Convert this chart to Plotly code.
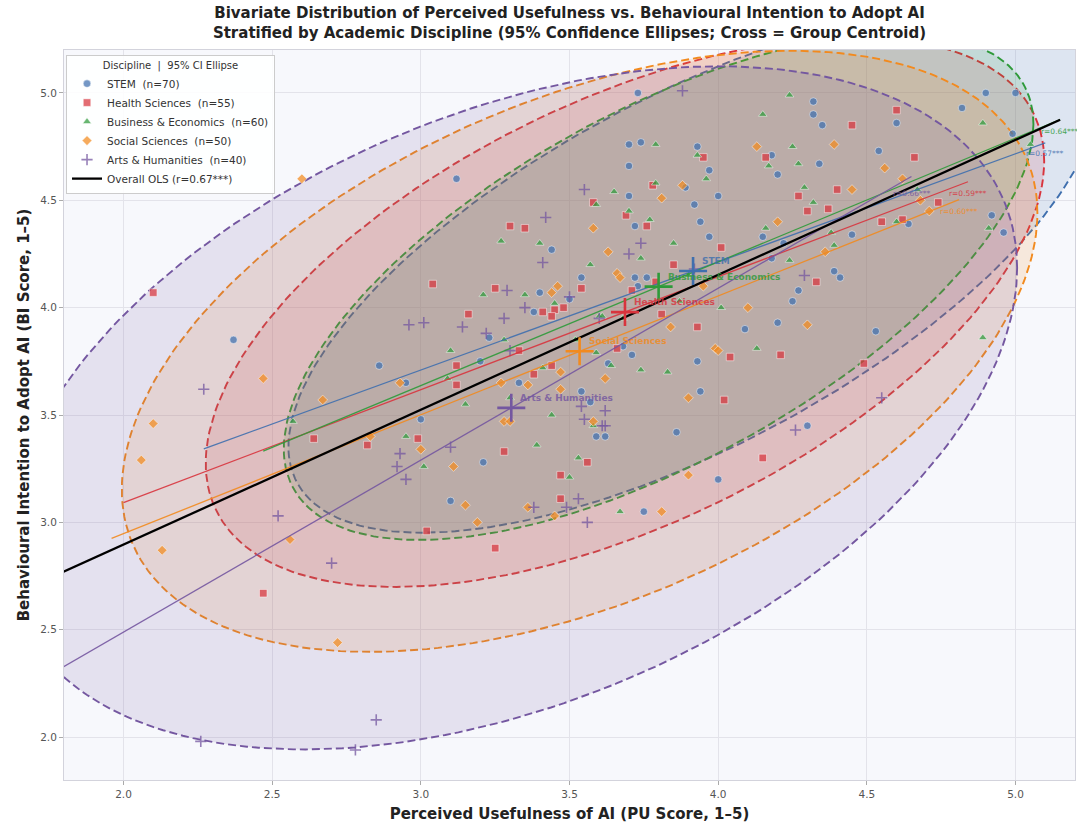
import numpy as np
import plotly.graph_objects as go

# ---------------- data ----------------
groups = ["STEM", "Health Sciences", "Business & Economics", "Social Sciences", "Arts & Humanities"]
group_n = [70, 55, 60, 50, 40]
group_r_labels = ["r=0.57***", "r=0.59***", "r=0.64***", "r=0.60***", "r=0.66***"]
overall_label = "Overall OLS (r=0.67***)"

stem_pu = [2.37, 2.86, 3.73, 3.12, 3.70, 3.74, 3.93, 3.70, 3.97, 3.89,
           3.70, 4.00, 3.92, 3.72, 3.94, 3.97, 3.44, 3.54, 3.72, 3.76,
           3.40, 3.73, 3.50, 3.38, 3.23, 3.93, 3.68, 3.20, 3.63, 3.71,
           2.95, 3.33, 3.94, 3.54, 3.57, 3.00, 3.59, 3.62, 3.86, 3.21,
           4.32, 4.32, 4.35, 4.60, 4.90, 5.00, 4.82, 4.99, 4.18, 4.20,
           4.34, 4.54, 4.64, 4.15, 4.45, 4.22, 4.18, 4.39, 4.41, 4.27,
           4.25, 4.92, 4.96, 4.09, 4.20, 4.53, 3.10, 3.75, 4.00, 4.30]
stem_bi = [3.85, 3.73, 5.00, 4.60, 4.76, 4.77, 4.75, 4.66, 4.64, 4.56,
           4.52, 4.52, 4.48, 4.38, 4.40, 4.33, 4.27, 4.14, 4.14, 4.14,
           4.07, 4.10, 4.04, 3.98, 3.86, 3.75, 3.82, 3.75, 3.74, 3.78,
           3.65, 3.65, 3.61, 3.61, 3.56, 3.48, 3.40, 3.40, 3.42, 3.28,
           4.96, 4.90, 4.85, 4.86, 5.00, 5.00, 4.93, 4.81, 4.71, 4.62,
           4.67, 4.73, 4.39, 4.33, 4.34, 4.30, 4.23, 4.17, 4.14, 4.08,
           4.03, 4.43, 4.35, 3.90, 3.93, 3.89, 3.10, 3.05, 3.20, 3.45]

health_pu = [2.10, 2.47, 2.64, 2.82, 3.78, 3.58, 3.69, 3.76, 3.30, 3.35,
             4.01, 3.85, 3.04, 3.25, 3.54, 3.71, 3.79, 3.41, 3.45, 3.48,
             3.44, 3.16, 3.81, 3.93, 4.04, 3.33, 3.66, 3.12, 3.12, 3.44,
             3.38, 4.02, 2.99, 3.28, 3.56, 3.47, 3.47, 3.02, 3.25, 4.60,
             4.16, 4.66, 4.27, 4.30, 4.37, 4.74, 4.62, 4.55, 4.33, 4.21,
             4.49, 4.15, 4.40, 3.95, 4.45]
health_bi = [4.07, 2.67, 3.39, 3.36, 4.57, 4.49, 4.43, 4.38, 4.38, 4.37,
             4.28, 4.20, 4.11, 4.09, 4.09, 4.08, 4.12, 3.98, 3.99, 4.00,
             3.96, 3.97, 3.97, 3.91, 3.77, 3.80, 3.81, 3.73, 3.64, 3.73,
             3.69, 3.57, 3.39, 3.33, 3.28, 3.22, 3.11, 2.96, 2.88, 4.92,
             4.70, 4.70, 4.52, 4.45, 4.46, 4.49, 4.41, 4.40, 4.12, 3.78,
             3.74, 3.30, 4.55, 4.70, 4.85]

business_pu = [2.57, 3.79, 3.93, 3.96, 3.65, 3.79, 3.59, 3.77, 3.27, 3.57,
               3.74, 3.21, 3.35, 3.45, 3.60, 3.61, 3.87, 4.01, 3.64, 3.74,
               3.83, 3.09, 3.44, 3.01, 3.39, 3.53, 3.50, 3.67, 4.24, 4.15,
               4.89, 5.05, 4.25, 4.17, 4.27, 4.29, 4.32, 4.67, 4.16, 4.38,
               4.39, 4.24, 4.91, 4.13, 4.89, 3.41, 3.59, 3.30, 3.52, 3.68,
               3.85, 3.10, 3.40, 3.15, 3.90, 3.58, 3.28, 3.70, 2.95, 4.60]
business_bi = [3.47, 4.76, 4.71, 4.60, 4.54, 4.58, 4.48, 4.41, 4.31, 4.20,
               4.23, 4.06, 4.06, 4.02, 3.96, 3.96, 4.03, 4.00, 3.73, 3.71,
               3.70, 3.67, 3.50, 3.26, 3.36, 3.30, 3.21, 3.05, 4.99, 4.90,
               4.86, 4.76, 4.75, 4.66, 4.67, 4.56, 4.49, 4.55, 4.37, 4.35,
               4.29, 4.22, 4.37, 3.81, 3.86, 3.72, 3.79, 3.58, 3.85, 3.95,
               4.30, 3.80, 4.30, 3.55, 4.15, 3.45, 3.85, 4.45, 3.40, 4.40]

social_pu = [2.47, 2.60, 2.67, 2.93, 2.10, 2.06, 2.13, 2.56, 2.72, 2.83,
             3.81, 3.88, 3.58, 3.63, 3.66, 3.67, 3.44, 3.46, 3.84, 3.99,
             4.00, 3.47, 3.62, 3.27, 3.36, 3.47, 3.90, 3.28, 3.30, 3.58,
             3.00, 3.11, 3.15, 3.36, 3.45, 3.19, 3.81, 3.90, 4.13, 4.39,
             4.56, 4.71, 4.36, 4.30, 4.45, 4.20, 4.62, 3.95, 4.10, 4.68]
social_bi = [3.67, 4.60, 3.57, 3.65, 3.46, 3.29, 2.87, 2.92, 2.44, 3.40,
             4.51, 4.57, 4.37, 4.26, 4.16, 4.14, 4.07, 4.10, 3.91, 3.81,
             3.80, 3.70, 3.67, 3.65, 3.64, 3.62, 3.58, 3.47, 3.47, 3.47,
             3.34, 3.26, 3.08, 3.07, 3.03, 3.00, 3.05, 3.22, 4.75, 4.76,
             4.65, 4.45, 4.26, 3.92, 4.55, 4.40, 4.60, 4.10, 4.00, 4.50]

arts_pu = [2.27, 2.52, 2.70, 2.85, 2.26, 2.78, 2.93, 2.92, 3.88, 3.55,
           3.42, 3.41, 3.92, 3.29, 2.96, 3.01, 3.14, 3.28, 3.22, 3.54,
           3.62, 3.55, 3.61, 3.62, 3.53, 3.38, 3.49, 3.56, 4.55, 4.26,
           4.29, 1.62, 2.95, 3.30, 3.60, 3.70, 3.35, 3.10, 3.50, 3.74]
arts_bi = [3.62, 3.03, 2.81, 2.08, 1.98, 1.94, 3.32, 3.26, 5.01, 4.55,
           4.42, 4.21, 4.18, 4.08, 3.92, 3.93, 3.91, 3.95, 3.88, 3.54,
           3.52, 3.48, 3.45, 3.45, 3.11, 3.07, 3.07, 3.00, 3.58, 3.43,
           4.15, 1.50, 3.20, 3.80, 3.95, 4.25, 4.00, 3.35, 4.05, 4.30]

# 95% confidence-ellipse shape (SD of PU, SD of BI, correlation) per group
ell_sd_x = [0.556, 0.576, 0.515, 0.629, 0.695]
ell_sd_y = [0.498, 0.523, 0.482, 0.572, 0.650]
ell_rho = [0.67, 0.55, 0.64, 0.46, 0.41]

x_ticks = [2.0, 2.5, 3.0, 3.5, 4.0, 4.5, 5.0]
y_ticks = [2.0, 2.5, 3.0, 3.5, 4.0, 4.5, 5.0]

# ---------------- styling ----------------
colors = ["#3F6FAE", "#D8343D", "#2E9A3A", "#F28A1E", "#7457A0"]
symbols = ["circle", "square", "triangle-up", "diamond", "cross-thin"]


def rgba(hexc, a):
    h = hexc.lstrip("#")
    return "rgba(%d,%d,%d,%.3f)" % (int(h[0:2], 16), int(h[2:4], 16), int(h[4:6], 16), a)


data_pu = [stem_pu, health_pu, business_pu, social_pu, arts_pu]
data_bi = [stem_bi, health_bi, business_bi, social_bi, arts_bi]

K95 = np.sqrt(5.991)
t = np.linspace(0, 2 * np.pi, 241)

fig = go.Figure()
annotations = []

# ellipses
for i, g in enumerate(groups):
    x = np.array(data_pu[i]); y = np.array(data_bi[i])
    cx, cy = x.mean(), y.mean()
    sx, sy, r = ell_sd_x[i] * K95, ell_sd_y[i] * K95, ell_rho[i]
    cov = np.array([[sx ** 2, r * sx * sy], [r * sx * sy, sy ** 2]])
    L = np.linalg.cholesky(cov)
    pts = L @ np.vstack([np.cos(t), np.sin(t)])
    fig.add_trace(go.Scatter(
        x=cx + pts[0], y=cy + pts[1], mode="lines", fill="toself",
        fillcolor=rgba(colors[i], 0.14),
        line=dict(color=colors[i], width=1.9, dash="8px,4px"),
        hoverinfo="skip", showlegend=False))

# points
for i, g in enumerate(groups):
    if symbols[i] == "cross-thin":
        mk = dict(symbol="cross-thin", size=8, color=rgba(colors[i], 0.8),
                  line=dict(color=rgba(colors[i], 0.75), width=1.6))
    else:
        mk = dict(symbol=symbols[i], size=7.5, color=rgba(colors[i], 0.72),
                  line=dict(color="rgba(255,255,255,0.8)", width=0.6))
    fig.add_trace(go.Scatter(
        x=data_pu[i], y=data_bi[i], mode="markers", marker=mk,
        name="%s  (n=%d)" % (g, group_n[i])))

# group regression lines
for i, g in enumerate(groups):
    x = np.array(data_pu[i]); y = np.array(data_bi[i])
    b1, b0 = np.polyfit(x, y, 1)
    xs = np.array([x.min() - 0.1, x.max() + 0.1])
    fig.add_trace(go.Scatter(
        x=xs, y=b0 + b1 * xs, mode="lines",
        line=dict(color=rgba(colors[i], 0.9), width=1.3),
        hoverinfo="skip", showlegend=False))
    annotations.append(dict(
        x=x.max() + 0.03, y=b0 + b1 * x.max(), xref="x", yref="y",
        text=group_r_labels[i], showarrow=False, xanchor="left", yanchor="middle",
        font=dict(size=7.5, color=colors[i]), opacity=0.85))

# overall OLS
all_x = np.concatenate([np.array(v) for v in data_pu])
all_y = np.concatenate([np.array(v) for v in data_bi])
b1, b0 = np.polyfit(all_x, all_y, 1)
xs = np.array([all_x.min() - 0.1, all_x.max() + 0.1])
fig.add_trace(go.Scatter(x=xs, y=b0 + b1 * xs, mode="lines",
                         line=dict(color="black", width=2.3), name=overall_label))

# centroids
for i, g in enumerate(groups):
    cx = float(np.mean(data_pu[i])); cy = float(np.mean(data_bi[i]))
    fig.add_trace(go.Scatter(
        x=[cx], y=[cy], mode="markers",
        marker=dict(symbol="cross-thin", size=20, color=colors[i],
                    line=dict(color=colors[i], width=2.6)),
        hoverinfo="skip", showlegend=False))
    annotations.append(dict(
        x=cx, y=cy, xref="x", yref="y", text="<b>%s</b>" % g, showarrow=False,
        xanchor="left", yanchor="middle", xshift=7, yshift=10,
        font=dict(size=9, color=colors[i]), opacity=0.8))

fig.update_layout(
    width=1077, height=825,
    margin=dict(l=64, r=2, t=50, b=45),
    paper_bgcolor="white", plot_bgcolor="#f7f8fc",
    font=dict(family="DejaVu Sans", color="#333333"),
    title=dict(
        text="<b>Bivariate Distribution of Perceived Usefulness vs. Behavioural Intention to Adopt AI</b><br>"
             "<b>Stratified by Academic Discipline (95% Confidence Ellipses; Cross = Group Centroid)</b>",
        x=0.5, xanchor="center", xref="paper", y=0.978, yanchor="top", yref="container",
        font=dict(size=15, color="#222222")),
    legend=dict(x=0.002, y=0.993, xanchor="left", yanchor="top",
                bgcolor="rgba(255,255,255,0.88)", bordercolor="#cccccc", borderwidth=1,
                font=dict(size=10.5, color="#333333"), tracegroupgap=0,
                title=dict(text="Discipline  |  95% CI Ellipse", side="top center",
                           font=dict(size=10, color="#333333"))),
    annotations=annotations,
    showlegend=True,
)
fig.update_xaxes(
    range=[1.8, 5.2], tickvals=x_ticks, ticktext=["%.1f" % v for v in x_ticks],
    showgrid=True, gridcolor="#e3e3ea", gridwidth=1, zeroline=False, automargin=False,
    ticks="outside", ticklen=4, tickcolor="#aaaaaa", tickfont=dict(size=10.5, color="#555555"),
    showline=True, mirror=True, linecolor="#d3d3dc",
    title=dict(text="<b>Perceived Usefulness of AI (PU Score, 1–5)</b>", standoff=9,
               font=dict(size=15, color="#222222")))
fig.update_yaxes(
    range=[1.8, 5.2], tickvals=y_ticks, ticktext=["%.1f" % v for v in y_ticks],
    showgrid=True, gridcolor="#e3e3ea", gridwidth=1, zeroline=False, automargin=False,
    ticks="outside", ticklen=4, tickcolor="#aaaaaa", tickfont=dict(size=10.5, color="#555555"),
    showline=True, mirror=True, linecolor="#d3d3dc",
    title=dict(text="<b>Behavioural Intention to Adopt AI (BI Score, 1–5)</b>", standoff=6,
               font=dict(size=15, color="#222222")))

fig.write_html("out.html", config={"displayModeBar": False},
               post_script="document.body.style.margin='0px';")
